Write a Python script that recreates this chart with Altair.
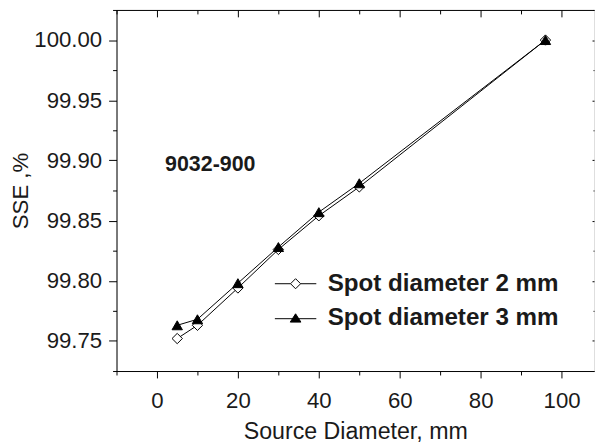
import altair as alt
import pandas as pd

# ---- data ----
source_diameter = [5, 10, 20, 30, 40, 50, 96]
sse_spot_2mm = [99.752, 99.763, 99.794, 99.826, 99.854, 99.878, 100.000]
sse_spot_3mm = [99.763, 99.768, 99.798, 99.828, 99.857, 99.881, 100.000]
series_names = ["Spot diameter 2 mm", "Spot diameter 3 mm"]

x_major = [0, 20, 40, 60, 80, 100]
x_minor = [-10, 10, 30, 50, 70, 90]
y_major = [99.75, 99.80, 99.85, 99.90, 99.95, 100.00]
y_minor = [99.725, 99.775, 99.825, 99.875, 99.925, 99.975, 100.025]

annotation_text = ["9032-900"]
annotation_x = [2.0]
annotation_y = [99.897]

rows = []
for name, vals in zip(series_names, [sse_spot_2mm, sse_spot_3mm]):
    for xv, yv in zip(source_diameter, vals):
        rows.append({"series": name, "leg": name, "x": xv, "y": yv})
df = pd.DataFrame(rows)
ann = pd.DataFrame({"x": annotation_x, "y": annotation_y, "t": annotation_text})

W, H = 484, 366
FONT = "Liberation Sans"
TXT = "#1a1a1a"

xs = alt.Scale(domain=[-10, 108], nice=False, zero=False)
ys = alt.Scale(domain=[99.725, 100.025], nice=False, zero=False)

common = dict(domainColor="black", tickColor="black", domainWidth=1, tickWidth=1,
              grid=False, labelFont=FONT, titleFont=FONT, labelColor=TXT, titleColor=TXT)

x_main = alt.Axis(orient="bottom", values=x_major, tickSize=7, labelFontSize=22.5, labelPadding=12,
                  title="Source Diameter, mm", titleFontSize=23.5, titleFontWeight="normal",
                  titlePadding=8, **common)
y_main = alt.Axis(orient="left", values=y_major, tickSize=8, format=".2f", labelFontSize=22.5,
                  labelPadding=7, title="SSE ,%", titleFontSize=22.5, titleFontWeight="normal",
                  titlePadding=1, **common)
x_min_b = alt.Axis(orient="bottom", values=x_minor, tickSize=4, labels=False, domain=False,
                   title=None, **common)
y_min_l = alt.Axis(orient="left", values=y_minor, tickSize=4, labels=False, domain=False,
                   title=None, **common)
x_top = alt.Axis(orient="bottom", offset=-H, values=x_major, tickSize=7, labels=False,
                 domain=True, title=None, **common)
y_right = alt.Axis(orient="left", offset=-W, values=y_major, tickSize=2, labels=False,
                   domain=False, title=None, **common)
x_top_min = alt.Axis(orient="bottom", offset=-H, values=x_minor, tickSize=4, labels=False,
                     domain=False, title=None, **common)
y_right_min = alt.Axis(orient="left", offset=-W, values=y_minor, tickSize=1, labels=False,
                       domain=False, title=None, **common)

base = alt.Chart(df)

lines = base.mark_line(color="black", strokeWidth=1).encode(
    x=alt.X("x:Q", scale=xs, axis=x_main),
    y=alt.Y("y:Q", scale=ys, axis=y_main),
    detail="series:N",
)

points = base.mark_point(filled=True, stroke="black", strokeWidth=1, size=110, opacity=1).encode(
    x=alt.X("x:Q", scale=xs, axis=x_min_b),
    y=alt.Y("y:Q", scale=ys, axis=y_min_l),
    shape=alt.Shape("series:N", scale=alt.Scale(domain=series_names, range=["diamond", "triangle-up"]),
                    legend=None),
    fill=alt.Fill("series:N", scale=alt.Scale(domain=series_names, range=["white", "black"]),
                  legend=None),
)

# legend symbols: line stub + marker, as custom paths
path_diamond = "M-1.4,0H-0.34M0.34,0H1.4M0,-0.34L0.34,0L0,0.34L-0.34,0Z"
path_triangle = "M-1.4,0.03H1.4M0,-0.3L0.36,0.26L-0.36,0.26Z"

legend = alt.Legend(
    title=None, orient="none", legendX=166, legendY=262, symbolSize=900,
    labelFont=FONT, labelFontSize=24.5, labelFontWeight="bold", labelColor=TXT,
    labelOffset=17, labelLimit=400, rowPadding=8, padding=0,
    symbolStrokeWidth=1, symbolOpacity=1,
)

legend_layer = base.mark_point(filled=True, opacity=0, stroke="black", strokeWidth=1).encode(
    x=alt.X("x:Q", scale=xs, axis=x_top),
    y=alt.Y("y:Q", scale=ys, axis=y_right),
    shape=alt.Shape("leg:N", scale=alt.Scale(domain=series_names, range=[path_diamond, path_triangle]),
                    legend=legend),
    fill=alt.Fill("leg:N", scale=alt.Scale(domain=series_names, range=["white", "black"]),
                  legend=legend),
)

frame2 = base.mark_point(opacity=0).encode(
    x=alt.X("x:Q", scale=xs, axis=x_top_min),
    y=alt.Y("y:Q", scale=ys, axis=y_right_min),
)

label = alt.Chart(ann).mark_text(align="left", baseline="middle", fontWeight="bold",
                                 fontSize=21.7, font=FONT, color=TXT).encode(
    x=alt.X("x:Q", scale=xs, axis=None),
    y=alt.Y("y:Q", scale=ys, axis=None),
    text="t:N",
)

chart = alt.layer(lines, points, legend_layer, frame2, label).resolve_axis(
    x="independent", y="independent"
).resolve_scale(
    shape="independent", fill="independent"
).properties(
    width=W, height=H,
    autosize=alt.AutoSizeParams(type="none"),
    padding={"left": 110, "top": -1, "right": 1, "bottom": 72},
).configure_view(stroke=None).configure(background="white")

chart.save("out.html", embed_options={"renderer": "svg", "actions": False})
